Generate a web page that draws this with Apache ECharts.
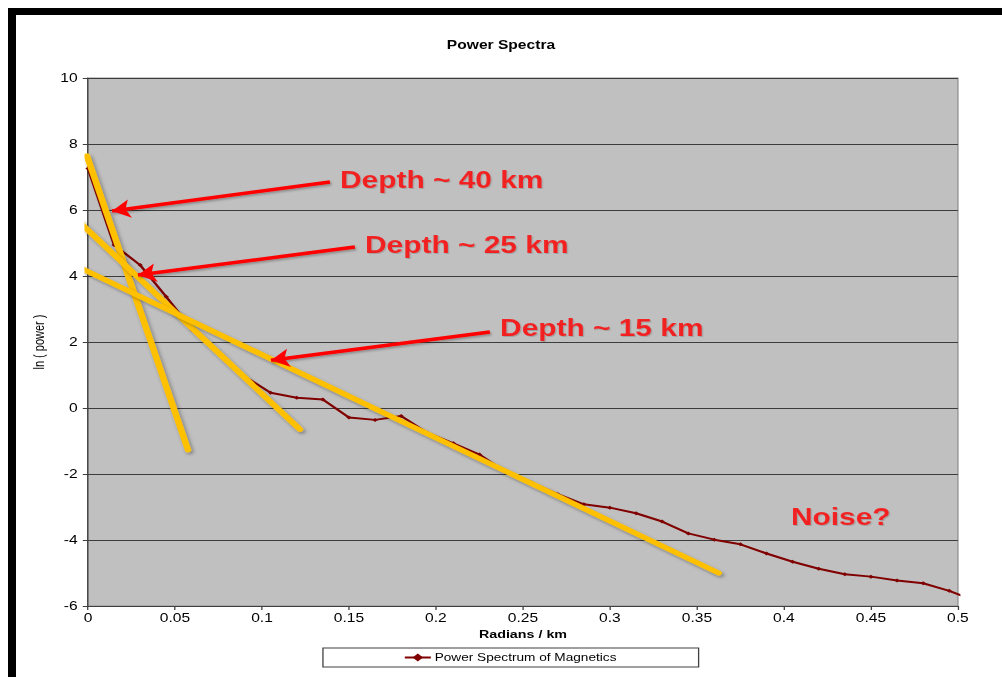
<!DOCTYPE html>
<html>
<head>
<meta charset="utf-8">
<script src="https://cdn.jsdelivr.net/npm/echarts@6/dist/echarts.min.js"></script>
<style>
  html, body { margin: 0; padding: 0; background: #ffffff; width: 1002px; height: 677px; overflow: hidden; }
  #frame { position: absolute; left: 8px; top: 8px; width: 1000px; height: 680px;
           border-left: 8px solid #000; border-top: 7px solid #000; box-sizing: border-box; }
  /* the slide figure is laid out at 771px wide and stretched to fill the 1002px page */
  #chart { position: absolute; left: 0; top: 0; width: 771px; height: 677px;
           transform: scaleX(1.2996); transform-origin: 0 0; }
</style>
</head>
<body>
<div id="frame"></div>
<div id="chart"></div>
<script>
// Spectrum samples: wavenumber (radians / km) and ln(power)
const radians = [0, 0.015, 0.03, 0.045, 0.06, 0.075, 0.09, 0.105, 0.12, 0.135, 0.15, 0.165,
  0.18, 0.195, 0.21, 0.225, 0.24, 0.255, 0.27, 0.285, 0.3, 0.315, 0.33, 0.345, 0.36, 0.375,
  0.39, 0.405, 0.42, 0.435, 0.45, 0.465, 0.48, 0.495, 0.51];
const lnPower = [7.26, 4.94, 4.33, 3.37, 2.36, 1.71, 0.96, 0.46, 0.31, 0.26, -0.29, -0.36,
  -0.24, -0.75, -1.07, -1.41, -1.93, -2.26, -2.61, -2.92, -3.02, -3.19, -3.44, -3.80, -3.99, -4.13,
  -4.41, -4.66, -4.87, -5.04, -5.11, -5.23, -5.31, -5.54, -5.84];

// Hand-fitted straight segments (end points in data units)
const fitDeep    = [[-0.0006, 7.64], [0.0575, -1.27]];
const fitMid     = [[-0.0075, 5.76], [0.1218, -0.65]];
const fitShallow = [[-0.0069, 4.31], [0.3625, -5.0]];

// Annotation arrows: [tail, tip]
const arrows = [
  [[0.1391, 6.85], [0.0138, 5.97]],
  [[0.1534, 4.88], [0.0287, 4.03]],
  [[0.231, 2.30], [0.1052, 1.45]]
];
// Annotation texts anchored at their left-middle point
const notes = [
  [0.1448, 6.91, 'Depth ~ 40 km'],
  [0.1592, 4.94, 'Depth ~ 25 km'],
  [0.2368, 2.42, 'Depth ~ 15 km'],
  [0.404, -3.30, 'Noise?']
];

const seriesName = 'Power Spectrum of Magnetics';
const FONT = '"Liberation Sans", Arial, sans-serif';

const chart = echarts.init(document.getElementById('chart'), null, { renderer: 'svg' });

const yellowStyle = {
  color: '#FFC000', width: 5, cap: 'round',
  shadowColor: 'rgba(0,0,0,0.35)', shadowBlur: 3, shadowOffsetX: 1.5, shadowOffsetY: 2
};
function fitSeries(pts) {
  return {
    type: 'line', data: pts, symbol: 'none', clip: false, silent: true, z: 4,
    lineStyle: yellowStyle, itemStyle: { color: '#FFC000' }
  };
}

chart.setOption({
  animation: false,
  backgroundColor: 'transparent',
  textStyle: { fontFamily: FONT },
  title: {
    text: 'Power Spectra', left: 'center', top: 34,
    textStyle: { fontFamily: FONT, fontSize: 12, fontWeight: 'bold', color: '#000' }
  },
  grid: {
    left: 67.7, right: 33.9, top: 78, bottom: 71,
    show: true, backgroundColor: '#C0C0C0', borderColor: '#8f8f8f', borderWidth: 1,
    containLabel: false, outerBoundsMode: 'none'
  },
  legend: {
    data: [seriesName], left: 248.5, top: 648,
    padding: [4, 63, 4, 62], itemWidth: 20, itemHeight: 10, itemGap: 0,
    borderColor: '#404040', borderWidth: 1, backgroundColor: '#fff',
    textStyle: { fontFamily: FONT, fontSize: 10.5, color: '#000', padding: [0, 0, 0, -2] }
  },
  xAxis: {
    type: 'value', min: 0, max: 0.5, interval: 0.05,
    name: 'Radians / km', nameLocation: 'middle', nameGap: 21,
    nameTextStyle: { fontFamily: FONT, fontSize: 11, fontWeight: 'bold', color: '#000' },
    axisLine: { show: true, onZero: false, lineStyle: { color: '#404040', width: 1 } },
    axisTick: { show: true, inside: false, length: 4, lineStyle: { color: '#404040' } },
    axisLabel: { fontFamily: FONT, fontSize: 12, color: '#000', margin: 6 },
    splitLine: { show: false }
  },
  yAxis: {
    type: 'value', min: -6, max: 10, interval: 2,
    name: 'ln ( power )', nameLocation: 'middle', nameGap: 29, nameRotate: 90,
    nameTextStyle: { fontFamily: FONT, fontSize: 11, color: '#000' },
    axisLine: { show: true, lineStyle: { color: '#404040', width: 1 } },
    axisTick: { show: true, inside: false, length: 4, lineStyle: { color: '#404040' } },
    axisLabel: { fontFamily: FONT, fontSize: 12, color: '#000', margin: 8 },
    splitLine: { show: true, lineStyle: { color: '#3c3c3c', width: 1 } }
  },
  series: [
    {
      name: seriesName, type: 'line', z: 3,
      data: radians.map((r, i) => [r, lnPower[i]]),
      symbol: 'diamond', symbolSize: 4, showSymbol: true,
      lineStyle: { color: '#800000', width: 2 },
      itemStyle: { color: '#800000' }
    },
    fitSeries(fitDeep),
    fitSeries(fitMid),
    fitSeries(fitShallow),
    {
      type: 'lines', coordinateSystem: 'cartesian2d', z: 6, silent: true,
      symbol: ['none', 'arrow'], symbolSize: 14,
      lineStyle: { color: '#FF0000', width: 3.5, opacity: 1,
        shadowColor: 'rgba(0,0,0,0.3)', shadowBlur: 2, shadowOffsetX: 1, shadowOffsetY: 1.5 },
      data: arrows.map(a => ({ coords: a }))
    },
    {
      type: 'scatter', z: 7, silent: true, symbolSize: 0.1,
      itemStyle: { color: 'rgba(0,0,0,0)' },
      label: {
        show: true, position: 'right', distance: 0,
        formatter: p => p.value[2],
        fontFamily: FONT, fontSize: 23, fontWeight: 'bold', color: '#FF0000',
        textShadowColor: 'rgba(0,0,0,0.2)', textShadowBlur: 1, textShadowOffsetX: 1, textShadowOffsetY: 1
      },
      data: notes
    }
  ]
});
</script>
</body>
</html>
